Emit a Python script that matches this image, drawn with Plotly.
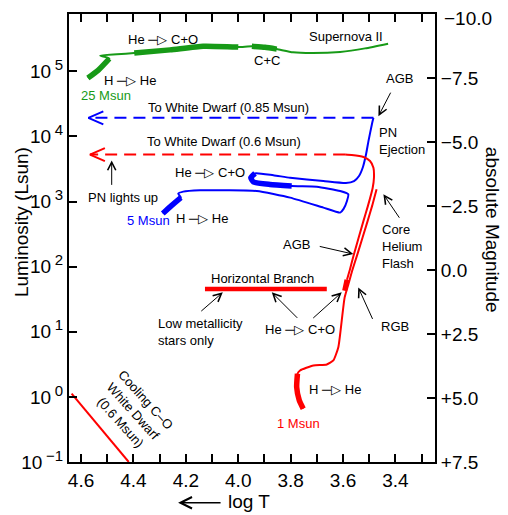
import numpy as np
import plotly.graph_objects as go

FONT = "Liberation Sans, Arial, Helvetica, sans-serif"
GREEN = "#179a17"
BLUE = "#0000ff"
RED = "#ff0000"

# ---------------- data: (log T, log L/Lsun) ----------------
# 25 Msun track
green_logT = [4.574, 4.535, 4.492, 4.527, 4.463, 4.397, 4.260, 4.134, 4.000,
              3.948, 3.898, 3.853, 3.791, 3.715, 3.611, 3.516, 3.428]
green_logL = [4.897, 5.015, 5.195, 5.240, 5.260, 5.280, 5.329, 5.385, 5.372,
              5.383, 5.368, 5.341, 5.291, 5.280, 5.298, 5.352, 5.424]
green_slow = [(0, 3), (5, 9), (9, 12)]        # index ranges of slow (thick) phases

# 5 Msun track
blue_logT = [4.288, 4.256, 4.219, 4.229, 4.210, 4.146, 4.044, 3.929, 3.802,
             3.675, 3.611, 3.598, 3.585, 3.580, 3.611, 3.700, 3.764, 3.796,
             3.879, 3.942, 3.952, 3.936, 3.866, 3.802, 3.675, 3.589, 3.558,
             3.539, 3.524, 3.512, 3.503, 3.490, 3.484]
blue_logL = [2.815, 2.933, 3.060, 3.121, 3.152, 3.173, 3.173, 3.162, 3.060,
             2.907, 2.830, 2.887, 3.009, 3.112, 3.162, 3.228, 3.236, 3.239,
             3.262, 3.300, 3.366, 3.433, 3.403, 3.366, 3.315, 3.285, 3.315,
             3.392, 3.530, 3.729, 3.928, 4.184, 4.285]
blue_slow = [(0, 3), (17, 22)]
blue_wd_logT = [3.484, 4.572]                 # to white dwarf (0.85 Msun)
blue_wd_logL = [4.285, 4.285]

# 1 Msun track: main sequence + red giant branch
red_rgb_logT = [3.752, 3.767, 3.777, 3.774, 3.764, 3.713, 3.662, 3.637, 3.618,
                3.605, 3.594, 3.579, 3.564, 3.545, 3.506, 3.489, 3.472]
red_rgb_logL = [-0.181, -0.054, 0.150, 0.355, 0.406, 0.482, 0.498, 0.559, 0.763,
                1.172, 1.524, 1.738, 1.953, 2.193, 2.703, 2.933, 3.188]
red_slow = [(0, 4)]
# red clump (He -> C+O)
clump_logT = [3.594, 3.585]
clump_logL = [1.631, 1.799]
# asymptotic giant branch and PN ejection
red_agb_logT = [3.585, 3.573, 3.560, 3.522, 3.505, 3.487, 3.482, 3.484, 3.497,
                3.522, 3.567, 3.592]
red_agb_logL = [1.799, 1.968, 2.167, 2.703, 2.933, 3.208, 3.366, 3.519, 3.622,
                3.683, 3.714, 3.721]
red_wd_logT = [3.592, 4.566]                  # to white dwarf (0.6 Msun)
red_wd_logL = [3.721, 3.721]
# horizontal branch
hb_logT = [4.127, 3.662]
hb_logL = [1.657, 1.657]
# cooling C-O white dwarf
wdcool_logT = [4.636, 4.418]
wdcool_logL = [0.049, -1.0]

# axis ticks
x_tickvals = [4.6, 4.5, 4.4, 4.3, 4.2, 4.1, 4.0, 3.9, 3.8, 3.7, 3.6, 3.5, 3.4, 3.3]
x_ticktext = ["4.6", "", "4.4", "", "4.2", "", "4.0", "", "3.8", "", "3.6", "", "3.4", ""]
y_exponents = [-1, 0, 1, 2, 3, 4, 5]
mag_tickvals = [-10.0, -7.5, -5.0, -2.5, 0.0, 2.5, 5.0, 7.5]
mag_ticktext = ["\u221210.0", "\u22127.5", "\u22125.0", "\u22122.5", "0.0", "+2.5", "+5.0", "+7.5"]

# ---------------- figure ----------------
fig = go.Figure()


def add_line(x, y, color, width, dash=None, smooth=True):
    fig.add_trace(go.Scatter(
        x=list(x), y=list(10 ** np.asarray(y, dtype=float)), mode="lines",
        line=dict(color=color, width=width, dash=dash,
                  shape="spline" if smooth else "linear", smoothing=0.5),
        hoverinfo="skip", showlegend=False))


def add_track(xs, ys, color, slow):
    add_line(xs, ys, color, 2)
    for a, b in slow:
        add_line(xs[a:b], ys[a:b], color, 5.5)


def add_chevron(tipT, tipL, color):
    dT, dL = 0.057, 0.10
    add_line([tipT - dT, tipT, tipT - dT], [tipL + dL, tipL, tipL - dL], color, 2, smooth=False)


add_track(green_logT, green_logL, GREEN, green_slow)
add_track(blue_logT, blue_logL, BLUE, blue_slow)
add_line(blue_wd_logT, blue_wd_logL, BLUE, 2, dash="12px,7px", smooth=False)
add_chevron(blue_wd_logT[-1], blue_wd_logL[-1], BLUE)

add_track(red_rgb_logT, red_rgb_logL, RED, red_slow)
add_line(clump_logT, clump_logL, RED, 5, smooth=False)
add_line(red_agb_logT, red_agb_logL, RED, 2)
add_line(red_wd_logT, red_wd_logL, RED, 2, dash="12px,7px", smooth=False)
add_chevron(red_wd_logT[-1], red_wd_logL[-1], RED)
add_line(hb_logT, hb_logL, RED, 4.5, smooth=False)
add_line(wdcool_logT, wdcool_logL, RED, 2, smooth=False)

# invisible trace to anchor the magnitude axis
fig.add_trace(go.Scatter(x=[None], y=[None], yaxis="y2", showlegend=False, hoverinfo="skip"))

ARR = "\u2500\u25b7"
anns = []


def label(x, y, text, color="black", size=13, xanchor="center", align="center", angle=0):
    anns.append(dict(x=x, y=y, xref="x", yref="y", text=text, showarrow=False,
                     xanchor=xanchor, yanchor="middle", align=align, textangle=angle,
                     font=dict(family=FONT, size=size, color=color)))


def pointer(x, y, ax, ay):
    anns.append(dict(x=x, y=y, xref="x", yref="y", ax=ax, ay=ay, text="",
                     showarrow=True, arrowhead=5, arrowsize=1.6, arrowwidth=1,
                     arrowcolor="black", standoff=0, startstandoff=0))


label(4.287, 5.485, "He " + ARR + " C+O")
label(3.589, 5.536, "Supernova II")
label(3.891, 5.164, "C+C")
label(4.413, 4.862, "H " + ARR + " He")
label(4.506, 4.628, "25 Msun", color=GREEN)
label(3.386, 4.893, "AGB")
label(4.039, 4.438, "To White Dwarf (0.85 Msun)")
label(3.470, 3.928, "PN<br>Ejection", xanchor="left", align="left")
label(4.054, 3.917, "To White Dwarf (0.6 Msun)")
label(4.440, 3.060, "PN lights up")
label(4.108, 3.443, "He " + ARR + " C+O")
label(4.344, 2.703, "5 Msun", color=BLUE)
label(4.139, 2.744, "H " + ARR + " He")
label(3.459, 2.305, "Core<br>Helium<br>Flash", xanchor="left", align="left")
label(3.779, 2.346, "AGB")
label(3.907, 1.825, "Horizontal Branch")
label(3.403, 1.080, "RGB")
label(4.314, 1.003, "Low metallicity<br>stars only", xanchor="left", align="left")
label(3.766, 1.034, "He " + ARR + " C+O")
label(3.631, 0.110, "H " + ARR + " He")
label(3.771, -0.401, "1 Msun", color=RED)
label(4.400, -0.219, "Cooling C\u2013O<br>White Dwarf<br>(0.6 Msun)", angle=48)

pointer(3.465, 4.311, 13, -25)
pointer(4.483, 3.632, 0, 26)
pointer(3.446, 3.112, 17, 25)
pointer(3.561, 2.193, -35, -8)
pointer(3.542, 1.681, 15, 33)
pointer(4.059, 1.605, -23, 20)
pointer(3.872, 1.605, 27, 27)
pointer(3.605, 1.605, -30, 27)

TICKSIZE = 19
# top magnitude label (nudged down so it stays on the page)
anns.append(dict(x=1.0, y=mag_tickvals[0], xref="paper", yref="y2", text=mag_ticktext[0],
                 xanchor="left", yanchor="middle", xshift=7, yshift=-4, showarrow=False,
                 font=dict(family=FONT, size=TICKSIZE, color="black")))

# axis titles and bottom arrow
anns.append(dict(x=-0.128, y=0.536, xref="paper", yref="paper", text="Luminosity (Lsun)",
                 xanchor="center", yanchor="middle",
                 showarrow=False, textangle=-90, font=dict(family=FONT, size=19, color="black")))
anns.append(dict(x=1.156, y=0.518, xref="paper", yref="paper", text="absolute Magnitude",
                 xanchor="center", yanchor="middle",
                 showarrow=False, textangle=90, font=dict(family=FONT, size=19, color="black")))
anns.append(dict(x=0.429, y=-0.089, xref="paper", yref="paper", text="log T", xanchor="left",
                 yanchor="middle",
                 showarrow=False, font=dict(family=FONT, size=19, color="black")))
anns.append(dict(x=0.298, y=-0.091, xref="paper", yref="paper", text="", ax=44, ay=0,
                 showarrow=True, arrowhead=5, arrowsize=1.5, arrowwidth=1.5, arrowcolor="black",
                 standoff=0, startstandoff=0))

axis_common = dict(showline=True, linewidth=2, linecolor="black", ticks="inside",
                   ticklen=8, tickwidth=1.5, tickcolor="black", showgrid=False, zeroline=False,
                   tickfont=dict(family=FONT, size=TICKSIZE, color="black"))

y_ticktext = ["10\u2009<sup><span style='font-size:15px'>%s</span></sup>" % str(e).replace("-", "\u2212")
              for e in y_exponents]

fig.update_layout(
    width=508, height=515, autosize=False,
    margin=dict(l=69, r=73, t=12, b=53),
    paper_bgcolor="white", plot_bgcolor="white",
    showlegend=False,
    xaxis=dict(range=[4.646, 3.249], tickmode="array", tickvals=x_tickvals,
               ticktext=x_ticktext, mirror="ticks", **axis_common),
    yaxis=dict(type="log", range=[-1, 5.88], tickmode="array",
               tickvals=[10.0 ** e for e in y_exponents], ticktext=y_ticktext,
               **axis_common),
    yaxis2=dict(overlaying="y", side="right", anchor="x", range=[7.5, -10],
                tickmode="array", tickvals=mag_tickvals, ticktext=[""] + mag_ticktext[1:],
                **axis_common),
    annotations=anns,
)

# let the 508x515 figure fill the page exactly (no default body margin)
fig.write_html("out.html", config={"displayModeBar": False},
               post_script="document.body.style.margin='0';")
